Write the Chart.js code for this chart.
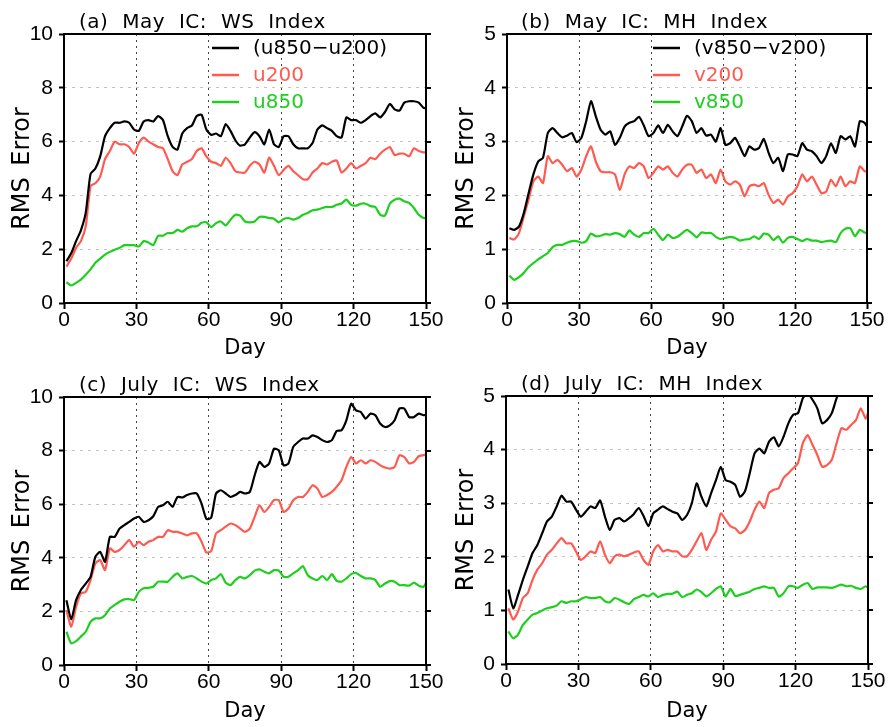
<!DOCTYPE html>
<html><head><meta charset="utf-8">
<script src="https://cdn.jsdelivr.net/npm/chart.js@4"></script>
<style>
html,body{margin:0;padding:0;background:#fff;}
#wrap{position:relative;width:888px;height:727px;background:#fff;}
canvas{position:absolute;}
</style></head><body>
<div id="wrap">
<canvas id="pa" width="444" height="360" style="left:0;top:0;width:444px;height:360px"></canvas>
<canvas id="pb" width="444" height="360" style="left:444px;top:0;width:444px;height:360px"></canvas>
<canvas id="pc" width="444" height="367" style="left:0;top:360px;width:444px;height:367px"></canvas>
<canvas id="pd" width="444" height="367" style="left:444px;top:360px;width:444px;height:367px"></canvas>
</div>
<script>
// ---- data ----
const days = [1,3,5,7,9,11,13,15,17,19,21,23,25,27,29,31,33,35,37,39,41,43,45,47,49,51,53,55,57,59,61,63,65,67,69,71,73,75,77,79,81,83,85,87,89,91,93,95,97,99,101,103,105,107,109,111,113,115,117,119,121,123,125,127,129,131,133,135,137,139,141,143,145,147,149,150];
const xTicks = [0,30,60,90,120,150];
const wsTicks = [0,2,4,6,8,10];
const mhTicks = [0,1,2,3,4,5];
const wsNames = ['(u850\u2212u200)','u200','u850'];
const mhNames = ['(v850\u2212v200)','v200','v850'];
const panelTitles = ['(a) May IC: WS Index','(b) May IC: MH Index','(c) July IC: WS Index','(d) July IC: MH Index'];

// (a) May IC: WS Index
const wsMayDiff = [1.55,1.85,2.3,2.7,3.35,4.8,5.0,5.45,6.2,6.5,
 6.7,6.7,6.75,6.7,6.45,6.4,6.75,6.8,6.75,6.95,
 6.8,6.2,5.8,5.7,6.3,6.5,6.6,6.95,7.0,6.45,
 6.25,6.3,6.2,6.65,6.4,6.05,5.85,5.9,6.15,6.35,
 6.2,5.9,6.45,5.9,5.8,6.2,6.2,5.9,5.75,5.75,
 5.75,5.95,6.45,6.6,6.5,6.4,6.2,6.15,6.9,6.8,
 6.8,6.7,6.8,6.95,7.05,6.9,7.1,7.4,7.2,7.15,
 7.45,7.5,7.5,7.45,7.25,7.25];
const wsMay200 = [1.35,1.65,2.05,2.3,2.85,4.35,4.45,4.7,5.35,5.65,
 6.0,5.9,5.9,5.8,5.55,5.95,6.15,6.0,5.9,5.8,
 5.75,5.35,4.9,4.75,5.15,5.25,5.35,5.65,5.75,5.45,
 5.25,5.2,5.1,5.4,5.2,4.9,4.85,4.85,5.1,5.25,
 5.15,4.85,5.4,5.1,4.75,4.95,5.1,4.9,4.75,4.6,
 4.6,4.85,5.0,5.2,5.15,5.25,5.3,4.85,5.0,5.2,
 5.0,5.1,5.2,5.4,5.35,5.55,5.7,5.8,5.5,5.55,
 5.55,5.45,5.75,5.65,5.6,5.6];
const wsMay850 = [0.77,0.65,0.75,0.87,1.05,1.25,1.5,1.65,1.8,1.9,
 1.98,2.05,2.15,2.15,2.15,2.1,2.3,2.25,2.15,2.5,
 2.5,2.6,2.6,2.72,2.65,2.78,2.85,2.85,2.98,3.0,
 2.82,2.97,3.03,2.88,3.1,3.28,3.25,3.03,3.0,3.03,
 3.2,3.2,3.16,3.13,3.0,3.12,3.16,3.1,3.16,3.28,
 3.35,3.45,3.47,3.53,3.57,3.57,3.65,3.7,3.84,3.65,
 3.62,3.69,3.69,3.6,3.57,3.28,3.25,3.69,3.84,3.88,
 3.78,3.72,3.53,3.28,3.16,3.16];

// (b) May IC: MH Index
const mhMayDiff = [1.39,1.36,1.42,1.67,2.04,2.39,2.63,2.7,3.16,3.25,
 3.16,3.08,3.11,3.16,2.99,3.07,3.38,3.75,3.47,3.22,
 3.13,3.19,2.94,3.07,3.28,3.35,3.38,3.46,3.3,3.1,
 3.16,3.3,3.16,3.31,3.19,3.1,3.28,3.48,3.38,3.16,
 3.25,3.11,3.13,3.0,3.25,2.94,2.97,3.07,2.91,2.73,
 2.91,2.85,2.88,3.05,2.79,2.6,2.7,2.45,2.76,2.76,
 2.73,2.97,2.85,2.82,2.73,2.6,2.73,2.97,2.79,3.1,
 3.04,3.1,2.91,3.38,3.35,3.28];
const mhMay200 = [1.21,1.18,1.3,1.61,1.92,2.26,2.35,2.23,2.73,2.6,
 2.66,2.57,2.45,2.51,2.35,2.48,2.73,2.91,2.63,2.45,
 2.43,2.43,2.39,2.1,2.39,2.54,2.51,2.6,2.54,2.32,
 2.42,2.54,2.48,2.54,2.42,2.35,2.48,2.57,2.57,2.42,
 2.48,2.32,2.39,2.23,2.48,2.26,2.2,2.26,2.2,1.98,
 2.17,2.2,2.17,2.23,2.01,1.86,1.92,1.83,1.98,2.04,
 2.17,2.39,2.26,2.35,2.2,2.04,2.07,2.29,2.17,2.35,
 2.17,2.26,2.23,2.54,2.45,2.45];
const mhMay850 = [0.51,0.43,0.48,0.56,0.67,0.74,0.81,0.87,0.93,1.04,
 1.08,1.08,1.12,1.15,1.15,1.12,1.15,1.29,1.24,1.25,
 1.28,1.27,1.3,1.28,1.23,1.35,1.27,1.23,1.3,1.3,
 1.38,1.27,1.17,1.27,1.21,1.23,1.3,1.36,1.3,1.22,
 1.31,1.3,1.3,1.23,1.19,1.21,1.23,1.21,1.16,1.18,
 1.19,1.24,1.19,1.29,1.27,1.17,1.24,1.12,1.21,1.23,
 1.19,1.15,1.19,1.16,1.16,1.13,1.15,1.16,1.13,1.3,
 1.38,1.39,1.24,1.36,1.31,1.3];

// (c) July IC: WS Index
const wsJulDiff = [2.42,1.7,2.42,2.8,3.04,3.29,4.04,4.22,3.85,4.78,
 4.78,5.09,5.22,5.34,5.47,5.53,5.34,5.4,5.55,5.9,
 5.96,6.09,5.9,6.27,6.25,6.34,6.4,6.4,6.02,5.45,
 5.5,6.4,6.52,6.4,6.27,6.34,6.46,6.4,6.46,7.08,
 7.58,7.39,7.52,8.07,8.01,7.45,7.52,8.14,8.32,8.45,
 8.45,8.57,8.51,8.39,8.32,8.39,8.73,8.76,9.13,9.75,
 9.5,9.44,9.19,9.38,9.32,9.01,8.88,8.94,9.13,9.57,
 9.57,9.25,9.25,9.38,9.32,9.34];
const wsJul200 = [2.05,1.43,2.17,2.67,2.73,3.17,3.79,3.91,3.54,4.35,
 4.22,4.29,4.47,4.66,4.41,4.6,4.47,4.6,4.66,4.78,
 4.78,5.03,4.97,4.97,4.91,4.84,4.91,4.91,4.6,4.2,
 4.25,4.91,5.03,5.16,5.28,5.22,5.09,4.97,5.09,5.53,
 5.96,5.71,5.9,6.15,6.15,5.71,5.84,6.15,6.27,6.27,
 6.46,6.71,6.58,6.27,6.34,6.46,6.65,6.89,7.39,7.76,
 7.52,7.64,7.52,7.64,7.58,7.45,7.37,7.33,7.39,7.83,
 7.76,7.52,7.58,7.79,7.83,7.85];
const wsJul850 = [1.24,0.81,0.89,1.06,1.24,1.61,1.74,1.74,1.86,2.11,
 2.24,2.36,2.45,2.46,2.42,2.73,2.86,2.88,2.92,3.11,
 3.11,3.11,3.29,3.42,3.23,3.29,3.32,3.23,3.11,3.04,
 3.17,3.23,3.39,3.07,2.98,3.17,3.29,3.23,3.35,3.52,
 3.57,3.48,3.42,3.54,3.52,3.29,3.29,3.42,3.54,3.69,
 3.35,3.23,3.17,3.32,3.17,3.39,3.14,3.11,3.23,3.39,
 3.44,3.32,3.23,3.23,3.17,2.92,3.04,3.13,3.11,2.98,
 2.98,2.96,3.07,2.96,2.92,3.07];

// (d) July IC: MH Index
const mhJulDiff = [1.39,1.04,1.29,1.57,1.82,2.07,2.22,2.44,2.66,2.75,
 2.94,3.14,3.03,3.03,2.88,2.75,2.84,2.94,2.91,3.05,
 2.75,2.5,2.69,2.72,2.66,2.72,2.8,2.91,2.76,2.57,
 2.81,2.88,2.94,2.89,2.84,2.81,2.69,2.78,3.0,3.37,
 3.12,2.94,3.19,3.43,3.68,3.43,3.4,3.34,3.12,3.22,
 3.56,3.93,4.02,3.93,4.15,4.23,4.06,4.24,4.49,4.65,
 4.68,4.96,5.05,4.93,4.77,4.49,4.55,4.68,4.96,5.15,
 5.3,5.35,5.45,5.6,5.55,5.5];
const mhJul200 = [1.04,0.83,0.98,1.23,1.32,1.57,1.76,1.88,2.04,2.13,
 2.25,2.35,2.25,2.25,2.1,1.94,2.01,2.1,2.07,2.29,
 2.04,1.88,2.01,2.04,2.01,2.04,2.08,2.1,1.94,1.85,
 2.1,2.22,2.1,2.13,2.1,2.1,2.01,2.01,2.13,2.29,
 2.44,2.13,2.32,2.47,2.81,2.69,2.57,2.53,2.44,2.5,
 2.66,2.88,3.03,2.91,3.19,3.25,3.28,3.47,3.56,3.65,
 3.75,4.12,4.27,4.09,3.9,3.68,3.71,3.81,4.12,4.4,
 4.37,4.46,4.55,4.77,4.58,4.68];
const mhJul850 = [0.61,0.48,0.55,0.73,0.83,0.92,0.95,1.0,1.04,1.06,
 1.09,1.17,1.14,1.17,1.17,1.21,1.25,1.23,1.23,1.25,
 1.17,1.15,1.23,1.2,1.15,1.12,1.21,1.25,1.29,1.26,
 1.32,1.25,1.29,1.31,1.31,1.35,1.25,1.29,1.32,1.39,
 1.34,1.26,1.32,1.4,1.45,1.26,1.4,1.27,1.29,1.32,
 1.35,1.4,1.42,1.45,1.42,1.42,1.26,1.32,1.45,1.45,
 1.42,1.48,1.51,1.4,1.43,1.43,1.43,1.42,1.45,1.48,
 1.45,1.46,1.42,1.4,1.45,1.42];

// ---- styling ----
const BLACK = '#000000', RED = '#ff5a50', GREEN = '#1ecf1e';
const COLORS = [BLACK, RED, GREEN];
const TICKFONT = "'Liberation Sans', Arial, sans-serif";
const TEXTFONT = "'DejaVu Sans', sans-serif";

const framePlugin = {
  id: 'frame',
  beforeDraw(chart) { try { chart.ctx.wordSpacing = '4px'; } catch(e) {} },
  afterDatasetsDraw(chart) {
    const {ctx, chartArea: a, scales} = chart;
    ctx.save();
    ctx.setLineDash([]);
    ctx.strokeStyle = '#000';
    ctx.lineWidth = 2;
    ctx.strokeRect(a.left, a.top, a.right - a.left, a.bottom - a.top);
    ctx.beginPath();
    scales.y.ticks.forEach(t => {
      const y = Math.round(scales.y.getPixelForValue(t.value));
      ctx.moveTo(a.right, y); ctx.lineTo(a.right + 5, y);
    });
    ctx.stroke();
    ctx.restore();
  },
  afterDraw(chart) {
    const o = chart.options.plugins.panel;
    const {ctx, chartArea: a} = chart;
    ctx.save();
    ctx.setLineDash([]);
    try { ctx.letterSpacing = '0.5px'; ctx.wordSpacing = '7px'; } catch(e) {}
    ctx.font = '20px ' + TEXTFONT;
    ctx.fillStyle = '#000';
    ctx.textBaseline = 'alphabetic';
    ctx.textAlign = 'left';
    ctx.fillText(o.title, a.left + o.titleDx, a.top - 6);
    try { ctx.letterSpacing = '0px'; ctx.wordSpacing = '0px'; } catch(e) {}
    if (o.legend) {
      chart.data.datasets.forEach((ds, i) => {
        const y = a.top + 14 + 27 * i;
        ctx.strokeStyle = ds.borderColor;
        ctx.lineWidth = 2.5;
        ctx.beginPath();
        ctx.moveTo(a.left + o.legX, y); ctx.lineTo(a.left + o.legX + 27, y);
        ctx.stroke();
        ctx.fillStyle = ds.borderColor;
        ctx.textBaseline = 'middle';
        ctx.font = '20px ' + TEXTFONT;
        ctx.fillText(ds.label, a.left + o.legX + 41, y + 1);
      });
    }
    ctx.restore();
  }
};

function makePanel(id, p) {
  const datasets = p.series.map((vals, i) => ({
    label: p.names[i],
    data: days.map((d, k) => ({x: d, y: vals[k]})),
    borderColor: COLORS[i],
    backgroundColor: COLORS[i],
    borderWidth: 2.2,
    pointRadius: 0,
    tension: 0.2,
    fill: false,
    clip: 0
  }));
  return new Chart(document.getElementById(id), {
    type: 'line',
    data: {datasets},
    options: {
      responsive: false, animation: false, devicePixelRatio: 1,
      layout: {padding: {left: 0, right: p.padR, top: p.padT, bottom: 0}},
      plugins: {
        legend: {display: false}, title: {display: false}, tooltip: {enabled: false},
        panel: {title: p.title, titleDx: p.titleDx, legend: p.legend, legX: p.legX}
      },
      scales: {
        x: {
          type: 'linear', min: 0, max: 150,
          afterBuildTicks: s => { s.ticks = xTicks.map(v => ({value: v})); },
          afterFit: s => { s.height = p.xH; s.paddingLeft = 0; s.paddingRight = 0; },
          grid: {color: '#444', lineWidth: 1, tickLength: 6, tickColor: '#000', tickWidth: 2, tickBorderDash: []},
          border: {display: false, dash: [2, 4]},
          ticks: {color: '#000', font: {family: TICKFONT, size: 21, lineHeight: 1}, padding: 1, maxRotation: 0, autoSkip: false},
          title: {display: true, text: 'Day', color: '#000', font: {family: TEXTFONT, size: 21, lineHeight: 1}, padding: {top: 0, bottom: p.dayPad}}
        },
        y: {
          min: 0, max: p.ymax,
          afterBuildTicks: s => { s.ticks = p.yTicks.map(v => ({value: v})); },
          afterFit: s => { s.width = p.left; s.paddingTop = 0; s.paddingBottom = 0; },
          grid: {color: '#c4c4c4', lineWidth: 1, tickLength: 5, tickColor: '#000', tickWidth: 2, tickBorderDash: []},
          border: {display: false, dash: [3, 5]},
          ticks: {color: '#000', font: {family: TICKFONT, size: 21, lineHeight: 1}, padding: 6},
          title: {display: true, text: 'RMS Error', color: '#000', font: {family: TEXTFONT, size: 24, lineHeight: 1}, padding: {top: 11, bottom: 0}}
        }
      }
    },
    plugins: [framePlugin]
  });
}

makePanel('pa', {series: [wsMayDiff, wsMay200, wsMay850], names: wsNames, yTicks: wsTicks, ymax: 10,
  left: 64, padR: 18, padT: 34, xH: 57, dayPad: 1, title: panelTitles[0], titleDx: 15, legend: true, legX: 148});
makePanel('pb', {series: [mhMayDiff, mhMay200, mhMay850], names: mhNames, yTicks: mhTicks, ymax: 5,
  left: 63, padR: 21, padT: 34, xH: 57, dayPad: 1, title: panelTitles[1], titleDx: 14, legend: true, legX: 146});
makePanel('pc', {series: [wsJulDiff, wsJul200, wsJul850], names: wsNames, yTicks: wsTicks, ymax: 10,
  left: 64, padR: 18, padT: 37, xH: 62, dayPad: 5, title: panelTitles[2], titleDx: 15, legend: false, legX: 148});
makePanel('pd', {series: [mhJulDiff, mhJul200, mhJul850], names: mhNames, yTicks: mhTicks, ymax: 5,
  left: 62, padR: 20, padT: 36, xH: 63, dayPad: 5, title: panelTitles[3], titleDx: 15, legend: false, legX: 146});
</script>
</body></html>
